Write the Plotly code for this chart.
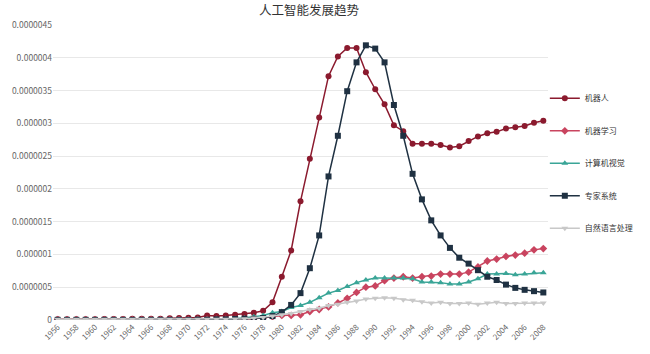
import plotly.graph_objects as go

years = list(range(1956, 2009))
SCALE = 1e-7  # values below are in units of 1e-7

robot = [0.1, 0.1, 0.1, 0.1, 0.1, 0.15, 0.15, 0.15, 0.2, 0.2, 0.2, 0.2, 0.25, 0.3, 0.35, 0.4,
         0.7, 0.6, 0.7, 0.8, 0.9, 1.1, 1.4, 2.7,
         6.6, 10.6, 18.1, 24.6, 30.9, 37.2, 40.2, 41.5, 41.5, 37.8, 35.2, 32.9, 29.7, 28.8,
         26.9, 26.9, 26.9, 26.7, 26.3, 26.5, 27.3, 28.0, 28.5, 28.7, 29.2, 29.4, 29.6, 30.1, 30.4]

ml = [0.05] * 15 + [0.1, 0.1, 0.1, 0.1, 0.1, 0.15, 0.2, 0.3, 0.5,
      0.7, 0.7, 0.8, 1.3, 1.6, 2.0, 2.6, 3.3, 4.2, 5.0, 5.2, 6.0, 6.4, 6.6, 6.4, 6.6, 6.7,
      7.0, 7.0, 7.0, 7.3, 8.1, 9.0, 9.3, 9.7, 9.9, 10.2, 10.7, 10.9]

cv = [0.05] * 15 + [0.1, 0.1, 0.1, 0.1, 0.2, 0.3, 0.5, 0.7, 1.1,
      1.3, 1.9, 2.2, 2.7, 3.4, 4.1, 4.5, 5.1, 5.7, 6.1, 6.4, 6.4, 6.4, 6.4, 6.3, 5.8, 5.8,
      5.7, 5.5, 5.5, 5.8, 6.3, 7.0, 7.0, 7.1, 6.9, 7.0, 7.2, 7.2]

expert = [0.02] * 15 + [0.05, 0.05, 0.1, 0.1, 0.15, 0.2, 0.2, 0.3, 0.6,
          1.2, 2.3, 4.1, 7.9, 12.9, 21.9, 28.1, 34.9, 39.3, 41.9, 41.4, 39.3, 32.8, 28.1,
          22.3, 18.4, 15.2, 12.9, 11.0, 9.5, 8.6, 7.6, 6.6, 6.1, 5.4, 4.9, 4.6, 4.4, 4.2]

nlp = [0.1] * 19 + [0.15, 0.2, 0.3, 0.4, 0.6,
       0.8, 1.0, 1.3, 1.6, 1.8, 2.2, 2.4, 2.7, 2.9, 3.2, 3.3, 3.4, 3.3, 3.1, 3.0, 2.8, 2.6,
       2.7, 2.5, 2.5, 2.6, 2.4, 2.6, 2.7, 2.5, 2.5, 2.6, 2.6, 2.6]

names = ["机器人", "机器学习", "计算机视觉", "专家系统", "自然语言处理"]
series = [robot, ml, cv, expert, nlp]
colors = ["#8b1a2e", "#c9445f", "#3aa597", "#1f3142", "#c8c8c8"]
symbols = ["circle", "diamond", "triangle-up", "square", "triangle-down"]
sizes = [6, 6, 6, 6, 6]

ytick_vals = [i * 5e-7 for i in range(10)]
ytick_text = ["0", "0.0000005", "0.000001", "0.0000015", "0.000002", "0.0000025",
              "0.000003", "0.0000035", "0.000004", "0.0000045"]
xtick_vals = list(range(1956, 2009, 2))

FONT = "Noto Sans CJK SC, Noto Sans, sans-serif"

fig = go.Figure()
for i, (nm, s) in enumerate(zip(names, series)):
    fig.add_trace(go.Scatter(
        x=years, y=[v * SCALE for v in s], name=nm, mode="lines+markers",
        line=dict(color=colors[i], width=1.5),
        marker=dict(symbol=symbols[i], size=sizes[i], color=colors[i]),
        legendgroup=nm,
    ))

fig.update_layout(
    width=650, height=354,
    margin=dict(l=50, r=82, t=25, b=33),
    paper_bgcolor="white", plot_bgcolor="white",
    font=dict(family=FONT, color="#333"),
    title=dict(text="人工智能发展趋势", x=(50 + 259) / 650, xanchor="center",
               y=1 - 11 / 354, yanchor="middle",
               font=dict(size=12.5, color="#333", family=FONT)),
    showlegend=True,
    legend=dict(x=(662 - 50) / 518, xanchor="right", y=1 - (97 - 25 - 13) / 296, yanchor="top",
                font=dict(size=8, color="#333", family=FONT),
                tracegroupgap=13.5, itemwidth=30, bgcolor="rgba(0,0,0,0)"),
)
fig.update_xaxes(range=[1955.5, 2008.5], tickvals=xtick_vals,
                 ticktext=[str(v) for v in xtick_vals], tickangle=-45,
                 tickfont=dict(size=8, color="#666"), showgrid=False, zeroline=False,
                 showline=False, ticks="")
fig.update_yaxes(range=[0, 4.5e-6], tickvals=ytick_vals, ticktext=ytick_text,
                 tickfont=dict(size=8.5, color="#666"), gridcolor="#e8e8e8", gridwidth=1,
                 zeroline=False, showline=False, ticks="")

fig.write_html("out.html")
